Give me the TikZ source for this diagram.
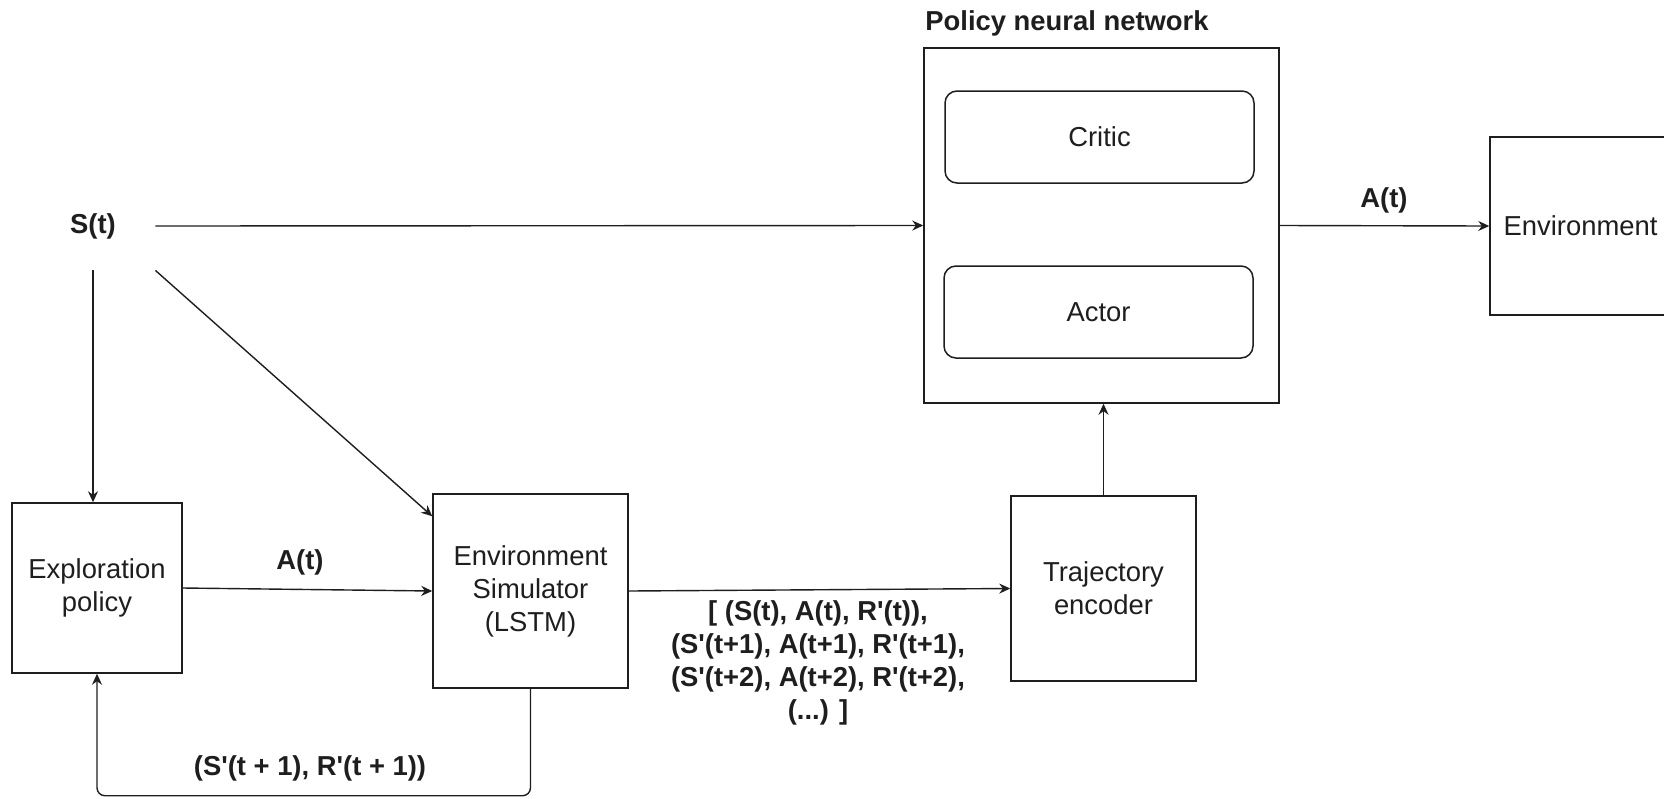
\documentclass[tikz,border=0pt]{standalone}
\usepackage{fontspec}
\setmainfont{Liberation Sans}
\usetikzlibrary{arrows.meta,calc}
\definecolor{ink}{HTML}{1E1E1E}
\newcommand{\pr}{\textquotesingle}
\begin{document}
\begin{tikzpicture}[x=0.5pt,y=-0.5pt,
  font=\fontsize{13.7}{16.5}\selectfont, text=ink,
  block/.style={draw=ink, line width=0.75pt, fill=white, align=center, inner sep=0pt},
  inner/.style={block, rounded corners=6pt},
  lbl/.style={font=\fontsize{13.7}{16.5}\selectfont\bfseries, align=center, inner sep=0pt},
  arr/.style={draw=ink, line width=0.7pt, -{Stealth[length=5.5pt,width=5pt,inset=1.8pt]}}]
\useasboundingbox (0,0) rectangle (1664,798);
\clip (0,0) rectangle (1664,798);

% state input
\node[lbl, minimum width=62pt, minimum height=44pt] (st) at (93,226) {S(t)};

% lower row of blocks
\node[block, minimum width=85pt, minimum height=85pt] (expl) at (97,588) {Exploration\\policy};
\node[block, minimum width=97.5pt, minimum height=97pt] (sim) at (530.5,591) {Environment\\Simulator\\(LSTM)};
\node[block, minimum width=92.5pt, minimum height=92.5pt] (traj) at (1103.5,588.5) {Trajectory\\encoder};

% policy network with critic and actor heads
\node[block, minimum width=177.5pt, minimum height=177.5pt] (pnn) at (1101.5,225.5) {};
\node[inner, minimum width=154.5pt, minimum height=46pt] (critic) at (1099.5,137) {Critic};
\node[inner, minimum width=154.5pt, minimum height=46pt] (actor) at (1098.5,312) {Actor};
\node[lbl, anchor=west] (title) at (925,23) {Policy neural network};

% real environment
\node[block, minimum width=90.5pt, minimum height=89pt] (env) at (1580.5,226) {Environment};

% connectors
\draw[arr] (st.east) -- (pnn.west);
\draw[arr] (st.south) -- (st.south |- expl.north);
\draw[arr] (st.south east) -- ($(sim.north west)+(0,23)$);
\draw[arr] (expl.east) -- (sim.west);
\draw[arr] (sim.east) -- (traj.west);
\draw[arr] (traj.north) -- (traj.north |- pnn.south);
\draw[arr] (pnn.east) -- (env.west);
\draw[arr, rounded corners=4pt] (sim.south) |- ($(expl.south)+(0,122)$) -- (expl.south);

% connector labels
\node[lbl] (a1) at (300,562) {A(t)};
\node[lbl] (a2) at (1384,200) {A(t)};
\node[lbl] (traj-list) at (818,663) {[ (S(t), A(t), R\pr(t)),\\(S\pr(t+1), A(t+1), R\pr(t+1),\\(S\pr(t+2), A(t+2), R\pr(t+2),\\(...) ]};
\node[lbl] (fb) at (310,768) {(S\pr(t + 1), R\pr(t + 1))};
\end{tikzpicture}
\end{document}
